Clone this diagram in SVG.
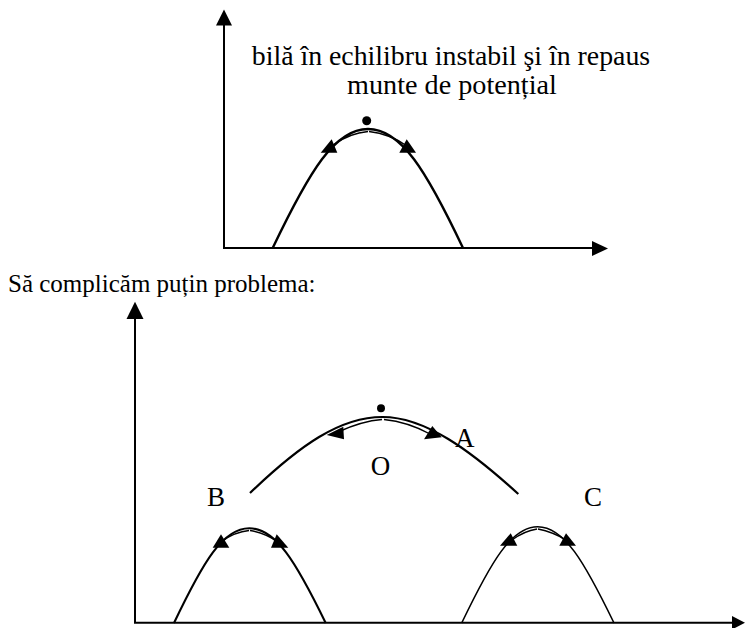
<svg xmlns="http://www.w3.org/2000/svg" width="745" height="628" viewBox="0 0 745 628">
<style>
.ax{stroke:#000;stroke-width:2;fill:none}
.cv{stroke:#000;stroke-width:2.4;fill:none;stroke-linejoin:round}
.th{stroke:#000;stroke-width:1.4;fill:none}
.ah{fill:#000;stroke:none}
text{font-family:"Liberation Serif","Times New Roman",serif;font-size:27px;fill:#000}
</style>
<rect width="745" height="628" fill="#fff"/>
<g id="top-graph">
  <g id="top-axes">
    <line class="ax" x1="224" y1="248" x2="224" y2="22"/>
    <polygon class="ah" points="224,9.5 216,25.5 232,25.5"/>
    <line class="ax" x1="223" y1="248" x2="595" y2="248"/>
    <polygon class="ah" points="608,248.5 592,241 592,256"/>
  </g>
  <g id="top-hill">
    <path class="cv" d="M272.7,248 C310,170 335,129 368,129 C401,129 426,170 463,248"/>
    <path class="th" d="M368,131.5 Q350,133 333,145"/>
    <path class="th" d="M369,131.5 Q390,134 407,146"/>
    <polygon class="ah" points="331.7,139.3 320.7,152.7 337.3,152.7"/>
    <polygon class="ah" points="406.7,139.3 399.3,152.7 416,152.7"/>
    <circle cx="366.7" cy="120.7" r="4.5" fill="#000"/>
  </g>
  <g id="top-label">
    <text x="451" y="65" text-anchor="middle" style="font-size:27.8px">bilă în echilibru instabil şi în repaus</text>
    <text x="452" y="94" text-anchor="middle" style="font-size:28.2px">munte de potențial</text>
  </g>
</g>
<text id="caption" x="8" y="292" style="font-size:25px">Să complicăm puțin problema:</text>
<g id="bottom-graph">
  <g id="bottom-axes">
    <line class="ax" x1="135" y1="623" x2="135" y2="314"/>
    <polygon class="ah" points="135,301.7 126.5,319 143.5,319"/>
    <line class="ax" x1="134" y1="622.7" x2="736" y2="622.7"/>
    <polygon class="ah" points="745,622.7 732,616 732,629.5"/>
  </g>
  <g id="hill-O">
    <path class="cv" style="stroke-width:2.2" d="M250,493 C300,445 340,417 382.5,417 C425,417 470,450 518.3,494"/>
    <path class="th" d="M382,419.5 Q362,421 338,432"/>
    <path class="th" d="M384,419.5 Q408,422 430,434"/>
    <polygon class="ah" points="326.7,435 343.3,426.7 344,439.3"/>
    <polygon class="ah" points="424,439.3 432.3,426 441.7,437.3"/>
    <circle cx="381" cy="408.3" r="4" fill="#000"/>
    <text x="455" y="447">A</text>
    <text x="380.5" y="475" text-anchor="middle">O</text>
  </g>
  <g id="hill-B">
    <path class="cv" style="stroke-width:2.1" d="M174,623 C203.6,561 223,528.3 249.3,528.3 C275.6,528.3 295.5,561 325.7,623"/>
    <path class="th" d="M249,530.5 Q235,532 222,541"/>
    <path class="th" d="M250,530.5 Q265,533 278,542"/>
    <polygon class="ah" points="221,534.3 212.7,547.7 229.3,547.7"/>
    <polygon class="ah" points="276.7,534.3 271,547.7 288.3,547.7"/>
    <text x="207" y="506">B</text>
  </g>
  <g id="hill-C">
    <path class="cv" style="stroke-width:1.6" d="M461.7,623 C491.5,561 511.4,526.7 537.7,526.7 C564,526.7 584,561 614,623"/>
    <path class="th" d="M537,529 Q524,531 512,540"/>
    <path class="th" d="M538,529 Q553,532 566,540"/>
    <polygon class="ah" points="510.7,533.3 500,545.7 517.3,545.7"/>
    <polygon class="ah" points="566,533.3 559.3,545.7 576,545.7"/>
    <text x="584" y="506">C</text>
  </g>
</g>
</svg>
